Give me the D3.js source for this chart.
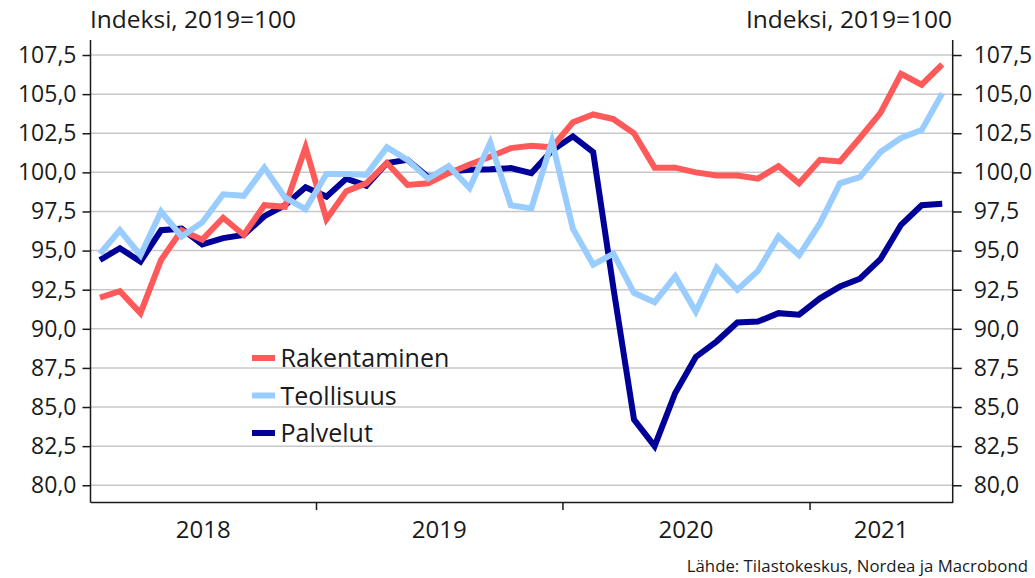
<!DOCTYPE html>
<html>
<head>
<meta charset="utf-8">
<script src="https://cdn.jsdelivr.net/npm/d3@7"></script>
<style>
  body { margin: 0; background: #fff; }
  svg text { font-family: "Open Sans", sans-serif; fill: #1a1a1a; }
</style>
</head>
<body>
<div id="chart"></div>
<script>
// monthly data, Feb 2018 .. Jul 2021
var firstMonth = new Date(2018, 1, 1);
var rakentaminen = [92.0, 92.4, 91.0, 94.4, 96.3, 95.7, 97.1, 96.0, 97.9, 97.8, 101.6, 97.0,
  98.8, 99.3, 100.6, 99.2, 99.3, 99.95, 100.5, 101.0, 101.55, 101.7, 101.6,
  103.2, 103.7, 103.4, 102.5, 100.3, 100.3, 100.0, 99.8, 99.8, 99.6, 100.4, 99.3,
  100.8, 100.7, 102.2, 103.8, 106.3, 105.6, 106.9];
var teollisuus = [94.8, 96.3, 94.7, 97.5, 95.9, 96.8, 98.6, 98.5, 100.3, 98.4, 97.65,
  99.9, 99.9, 99.85, 101.6, 100.8, 99.6, 100.4, 99.0, 101.9, 97.9, 97.7, 102.0,
  96.4, 94.1, 94.8, 92.3, 91.7, 93.35, 91.1, 93.9, 92.5, 93.7, 95.9, 94.7,
  96.75, 99.3, 99.7, 101.3, 102.2, 102.7, 105.05];
var palvelut = [94.4, 95.15, 94.3, 96.3, 96.4, 95.4, 95.8, 96.0, 97.2, 97.9, 99.05,
  98.45, 99.6, 99.15, 100.6, 100.8, 99.7, 100.05, 100.16, 100.2, 100.27, 99.95, 101.4,
  102.3, 101.3, 92.6, 84.2, 82.5, 85.9, 88.2, 89.2, 90.4, 90.46, 91.0, 90.9,
  91.95, 92.7, 93.2, 94.45, 96.65, 97.9, 98.0];
var yTicks = [80, 82.5, 85, 87.5, 90, 92.5, 95, 97.5, 100, 102.5, 105, 107.5];
var years = [2018, 2019, 2020, 2021];

var series = [
  {name: "Palvelut", values: palvelut, color: "#000099"},
  {name: "Rakentaminen", values: rakentaminen, color: "#ff5a5a"},
  {name: "Teollisuus", values: teollisuus, color: "#99ccff"}
];
var legendOrder = ["Rakentaminen", "Teollisuus", "Palvelut"];

var W = 1035, H = 578;
var L = 90.5, R = 952.7, T = 40, B = 502;

var svg = d3.select("#chart").append("svg")
  .attr("width", W).attr("height", H);

var x = d3.scaleTime()
  .domain([firstMonth, new Date(2021, 7, 1)])
  .range([L, R]);
var y = d3.scaleLinear()
  .domain([78.93, 108.46])
  .range([B, T]);

// mid-month position for each point
function midMonth(i) {
  var a = d3.timeMonth.offset(firstMonth, i);
  var b = d3.timeMonth.offset(firstMonth, i + 1);
  return new Date((a.getTime() + b.getTime()) / 2);
}

var fmt = function(d) { return d3.format(".1f")(d).replace(".", ","); };

// gridlines
svg.append("g").selectAll("line")
  .data(yTicks).enter().append("line")
  .attr("x1", L).attr("x2", R)
  .attr("y1", function(d) { return y(d); })
  .attr("y2", function(d) { return y(d); })
  .attr("stroke", "#c8c8c8").attr("stroke-width", 1.5);

// axes
var leftAxis = svg.append("g").attr("transform", "translate(" + L + ",0)")
  .call(d3.axisLeft(y).tickValues(yTicks).tickFormat(fmt).tickSize(8).tickPadding(6).tickSizeOuter(0));
var rightAxis = svg.append("g").attr("transform", "translate(" + R + ",0)")
  .call(d3.axisRight(y).tickValues(yTicks).tickFormat(fmt).tickSize(9).tickPadding(12).tickSizeOuter(0));
[leftAxis, rightAxis].forEach(function(a) {
  a.select(".domain").remove();
  a.selectAll(".tick line").attr("stroke", "#1a1a1a").attr("stroke-width", 1.5);
  a.selectAll(".tick text").style("font-size", "23px").attr("fill", "#1a1a1a");
});
svg.append("line").attr("x1", L).attr("x2", L).attr("y1", T).attr("y2", B + 0.75)
  .attr("stroke", "#1a1a1a").attr("stroke-width", 1.5);
svg.append("line").attr("x1", R).attr("x2", R).attr("y1", T).attr("y2", B + 0.75)
  .attr("stroke", "#1a1a1a").attr("stroke-width", 1.5);

var yearBounds = years.slice(1).map(function(yr) { return new Date(yr, 0, 1); });
var bottomAxis = svg.append("g").attr("transform", "translate(0," + B + ")")
  .call(d3.axisBottom(x).tickValues(yearBounds).tickFormat("").tickSize(8).tickSizeOuter(0));
bottomAxis.select(".domain").attr("stroke", "#1a1a1a").attr("stroke-width", 1.5);
bottomAxis.selectAll(".tick line").attr("stroke", "#1a1a1a").attr("stroke-width", 1.5);

// year labels centred in each year span
svg.append("g").selectAll("text")
  .data(years).enter().append("text")
  .attr("x", function(yr) {
    var a = Math.max(x(new Date(yr, 0, 1)), L);
    var b = Math.min(x(new Date(yr + 1, 0, 1)), R);
    return (a + b) / 2;
  })
  .attr("y", 538)
  .attr("text-anchor", "middle")
  .style("font-size", "24px")
  .text(function(d) { return d; });

// lines
var line = d3.line()
  .x(function(d, i) { return x(midMonth(i)); })
  .y(function(d) { return y(d); });

svg.append("g").selectAll("path")
  .data(series).enter().append("path")
  .attr("d", function(s) { return line(s.values); })
  .attr("fill", "none")
  .attr("stroke", function(s) { return s.color; })
  .attr("stroke-width", 6)
  .attr("stroke-linejoin", "miter");

// legend
var lg = svg.append("g").attr("transform", "translate(252,358)");
legendOrder.forEach(function(name, i) {
  var s = series.find(function(d) { return d.name === name; });
  var g = lg.append("g").attr("transform", "translate(0," + (i * 37.5) + ")");
  g.append("line").attr("x1", 0).attr("x2", 23).attr("y1", 0).attr("y2", 0)
    .attr("stroke", s.color).attr("stroke-width", 6);
  g.append("text").attr("x", 28.5).attr("y", 9)
    .style("font-size", "25px").text(name);
});

// titles
svg.append("text").attr("x", 90).attr("y", 28)
  .style("font-size", "24.5px").text("Indeksi, 2019=100");
svg.append("text").attr("x", 952).attr("y", 28).attr("text-anchor", "end")
  .style("font-size", "24.5px").text("Indeksi, 2019=100");

svg.append("text").attr("x", 1028).attr("y", 572).attr("text-anchor", "end")
  .style("font-size", "16.8px").text("Lähde: Tilastokeskus, Nordea ja Macrobond");
</script>
</body>
</html>
